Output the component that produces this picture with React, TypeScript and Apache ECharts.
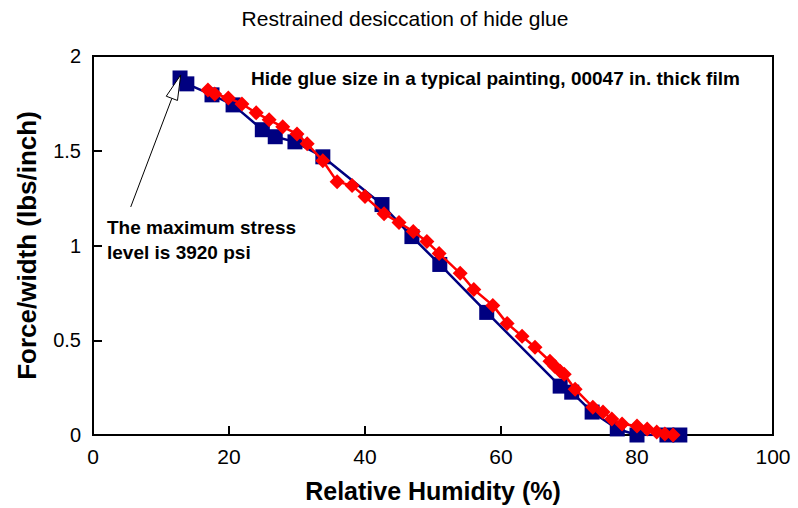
import React, { useEffect, useRef } from "react";
import * as echarts from "echarts";

const titleText = "Restrained desiccation of hide glue";
const xAxisName = "Relative Humidity (%)";
const yAxisName = "Force/width (lbs/inch)";
const noteTop = "Hide glue size in a typical painting, 00047 in. thick film";
const noteArrow = ["The maximum stress", "level is 3920 psi"];

const blueRH = [12.8, 13.8, 17.5, 20.6, 24.9, 26.8, 29.7, 33.8, 42.5, 46.9, 51.0, 57.9, 68.7, 70.4, 73.4, 77.1, 80.0, 84.4, 86.3];
const blueForce = [1.884, 1.853, 1.795, 1.742, 1.611, 1.574, 1.547, 1.468, 1.216, 1.047, 0.9, 0.647, 0.258, 0.226, 0.121, 0.032, 0.0, 0.0, 0.0];

const redRH = [16.9, 17.9, 19.9, 21.9, 24.0, 25.9, 27.9, 30.0, 31.5, 33.8, 35.9, 38.1, 40.0, 42.8, 45.0, 47.1, 49.1, 50.9, 54.0, 56.0, 58.8, 60.9, 63.1, 65.0, 67.2, 67.9, 68.7, 69.3, 70.9, 73.5, 75.0, 76.3, 77.8, 80.0, 81.5, 82.9, 84.1, 85.3];
const redForce = [1.821, 1.8, 1.779, 1.747, 1.7, 1.663, 1.626, 1.589, 1.537, 1.447, 1.337, 1.316, 1.258, 1.168, 1.121, 1.074, 1.021, 0.958, 0.853, 0.768, 0.684, 0.589, 0.521, 0.463, 0.389, 0.363, 0.337, 0.321, 0.242, 0.147, 0.121, 0.084, 0.058, 0.047, 0.032, 0.016, 0.005, 0.0];

const arrowTip = [12.9, 1.9];

const FONT = "Liberation Sans, Arial, sans-serif";

export default function App() {
  const ref = useRef<HTMLDivElement>(null);
  useEffect(() => {
    if (!ref.current) return;
    const chart = echarts.init(ref.current, null, { renderer: "svg" });
    const option: any = {
      animation: false,
      backgroundColor: "#ffffff",
      title: {
        text: titleText,
        left: 400,
        textAlign: "center",
        top: 3,
        textStyle: { fontFamily: FONT, fontSize: 21, fontWeight: "normal", color: "#000" },
      },
      grid: {
        left: 93,
        right: 25,
        top: 56,
        bottom: 72,
        show: true,
        borderColor: "#000",
        borderWidth: 2,
        backgroundColor: "transparent",
      },
      xAxis: {
        type: "value",
        min: 0,
        max: 100,
        interval: 20,
        name: xAxisName,
        nameLocation: "middle",
        nameGap: 43,
        nameTextStyle: { fontFamily: FONT, fontSize: 25, fontWeight: "bold", color: "#000" },
        axisLine: { show: true, lineStyle: { color: "#000", width: 2 } },
        axisTick: { show: true, inside: true, length: 9, lineStyle: { color: "#000", width: 2 } },
        axisLabel: { fontFamily: FONT, fontSize: 21, color: "#000", margin: 11 },
        splitLine: { show: false },
      },
      yAxis: {
        type: "value",
        min: 0,
        max: 2,
        interval: 0.5,
        name: yAxisName,
        nameLocation: "middle",
        nameGap: 53,
        nameTextStyle: { fontFamily: FONT, fontSize: 26, fontWeight: "bold", color: "#000" },
        axisLine: { show: true, lineStyle: { color: "#000", width: 2 } },
        axisTick: { show: true, inside: true, length: 9, lineStyle: { color: "#000", width: 2 } },
        axisLabel: { fontFamily: FONT, fontSize: 20, color: "#000", margin: 12 },
        splitLine: { show: false },
      },
      series: [
        {
          type: "line",
          data: blueRH.map((x, i) => [x, blueForce[i]]),
          symbol: "rect",
          symbolSize: 15,
          lineStyle: { color: "#000080", width: 2.5 },
          itemStyle: { color: "#000080", borderWidth: 0 },
          z: 2,
        },
        {
          type: "line",
          data: redRH.map((x, i) => [x, redForce[i]]),
          symbol: "diamond",
          symbolSize: 15,
          lineStyle: { color: "#ff0000", width: 2.5 },
          itemStyle: { color: "#ff0000", borderWidth: 0 },
          z: 3,
        },
      ],
    };
    chart.setOption(option);

    const tip = chart.convertToPixel({ gridIndex: 0 }, arrowTip) as number[];
    const tx = tip[0], ty = tip[1];
    const tail = [tx - 50, ty + 132];
    const dx = tx - tail[0], dy = ty - tail[1];
    const len = Math.sqrt(dx * dx + dy * dy);
    const ux = dx / len, uy = dy / len;
    const headLen = 25, headHalf = 6;
    const bx = tx - ux * headLen, by = ty - uy * headLen;
    const px = -uy, py = ux;
    chart.setOption({
      graphic: [
        {
          type: "line",
          shape: { x1: tail[0], y1: tail[1], x2: bx, y2: by },
          style: { stroke: "#000", lineWidth: 1 },
          z: 10,
        },
        {
          type: "polygon",
          shape: {
            points: [
              [tx, ty],
              [bx + px * headHalf, by + py * headHalf],
              [bx - px * headHalf, by - py * headHalf],
            ],
          },
          style: { fill: "#fff", stroke: "#000", lineWidth: 1 },
          z: 10,
        },
        {
          type: "text",
          left: 251,
          top: 69,
          style: { text: noteTop, fontFamily: FONT, fontSize: 19, fontWeight: "bold", fill: "#000" },
          z: 10,
        },
        {
          type: "text",
          left: 107,
          top: 215,
          style: {
            text: noteArrow.join("\n"),
            fontFamily: FONT,
            fontSize: 19,
            fontWeight: "bold",
            fill: "#000",
            lineHeight: 25,
          },
          z: 10,
        },
      ],
    });
    return () => chart.dispose();
  }, []);
  return <div ref={ref} style={{ width: 798, height: 508, position: "absolute", left: 0, top: 0 }} />;
}
